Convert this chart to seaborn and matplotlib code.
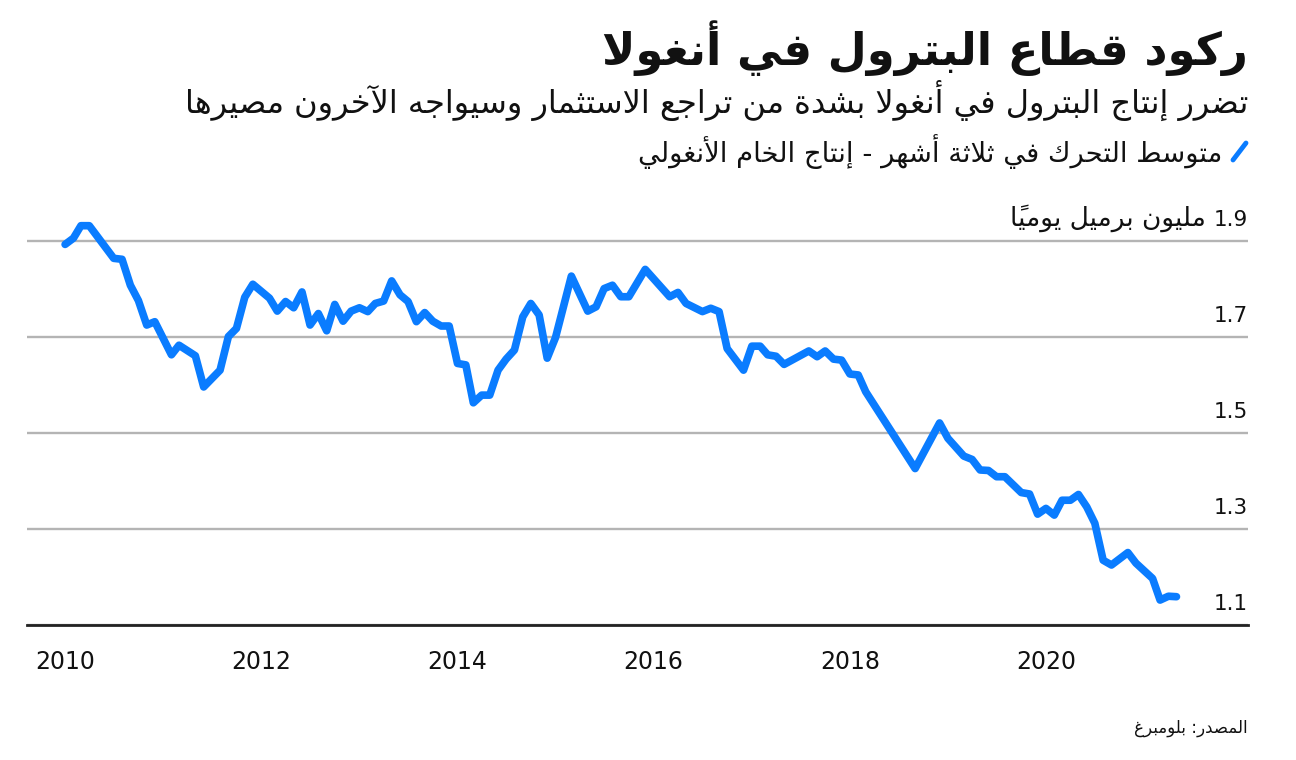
import re
import pandas as pd
import matplotlib
matplotlib.use('Agg')
import matplotlib.pyplot as plt
from matplotlib.lines import Line2D
import seaborn as sns

# --- data (3-month moving average of Angolan crude output, million bpd) ---
months = [
    '2010-01', '2010-02', '2010-03', '2010-04', '2010-07', '2010-08', '2010-09', '2010-10', '2010-11', '2010-12',
    '2011-02', '2011-03', '2011-05', '2011-06', '2011-08', '2011-09', '2011-10', '2011-11', '2011-12',
    '2012-02', '2012-03', '2012-04', '2012-05', '2012-06', '2012-07', '2012-08', '2012-09', '2012-10', '2012-11', '2012-12',
    '2013-01', '2013-02', '2013-03', '2013-04', '2013-05', '2013-06', '2013-07', '2013-08', '2013-09', '2013-10', '2013-11', '2013-12',
    '2014-01', '2014-02', '2014-03', '2014-04', '2014-05', '2014-06', '2014-07', '2014-08', '2014-09', '2014-10', '2014-11', '2014-12',
    '2015-01', '2015-03', '2015-05', '2015-06', '2015-07', '2015-08', '2015-09', '2015-10', '2015-12',
    '2016-03', '2016-04', '2016-05', '2016-07', '2016-08', '2016-09', '2016-10', '2016-12',
    '2017-01', '2017-02', '2017-03', '2017-04', '2017-05', '2017-08', '2017-09', '2017-10', '2017-11', '2017-12',
    '2018-01', '2018-02', '2018-03', '2018-09', '2018-12',
    '2019-01', '2019-03', '2019-04', '2019-05', '2019-06', '2019-07', '2019-08', '2019-10', '2019-11', '2019-12',
    '2020-01', '2020-02', '2020-03', '2020-04', '2020-05', '2020-06', '2020-07', '2020-08', '2020-09', '2020-11', '2020-12',
    '2021-02', '2021-03', '2021-04', '2021-05',
]
production = [
    1.893, 1.906, 1.932, 1.932, 1.864, 1.862, 1.808, 1.776, 1.725, 1.732,
    1.663, 1.683, 1.661, 1.596, 1.631, 1.701, 1.718, 1.783, 1.810,
    1.781, 1.754, 1.774, 1.761, 1.794, 1.725, 1.749, 1.713, 1.768, 1.733, 1.754,
    1.761, 1.753, 1.770, 1.775, 1.817, 1.788, 1.774, 1.732, 1.751, 1.733, 1.723, 1.723,
    1.645, 1.642, 1.563, 1.579, 1.579, 1.631, 1.654, 1.673, 1.742, 1.770, 1.746, 1.656,
    1.699, 1.827, 1.754, 1.763, 1.801, 1.808, 1.784, 1.784, 1.841,
    1.784, 1.793, 1.770, 1.753, 1.760, 1.753, 1.676, 1.631,
    1.681, 1.681, 1.663, 1.660, 1.643, 1.671, 1.659, 1.671, 1.654, 1.652,
    1.623, 1.621, 1.586, 1.426, 1.521,
    1.489, 1.452, 1.445, 1.423, 1.422, 1.409, 1.409, 1.376, 1.373, 1.331,
    1.343, 1.329, 1.360, 1.360, 1.372, 1.346, 1.312, 1.235, 1.225, 1.251, 1.229,
    1.197, 1.152, 1.160, 1.159,
]
year_ticks = [2010, 2012, 2014, 2016, 2018, 2020]
y_ticks = [1.1, 1.3, 1.5, 1.7, 1.9]

title = 'ركود قطاع البترول في أنغولا'
subtitle = 'تضرر إنتاج البترول في أنغولا بشدة من تراجع الاستثمار وسيواجه الآخرون مصيرها'
legend_label = 'متوسط التحرك في ثلاثة أشهر - إنتاج الخام الأنغولي'
unit_label = 'مليون برميل يومياً'
source = 'المصدر: بلومبرغ'

BLUE = '#0a7cff'
GRID = '#b4b4b4'
INK = '#111111'

# --- tiny arabic shaper (matplotlib has no shaping / bidi of its own) ---
_spec = [('\u0621', 0xFE80, 1), ('\u0622', 0xFE81, 2), ('\u0623', 0xFE83, 2), ('\u0624', 0xFE85, 2),
         ('\u0625', 0xFE87, 2), ('\u0626', 0xFE89, 4), ('\u0627', 0xFE8D, 2), ('\u0628', 0xFE8F, 4),
         ('\u0629', 0xFE93, 2), ('\u062A', 0xFE95, 4), ('\u062B', 0xFE99, 4), ('\u062C', 0xFE9D, 4),
         ('\u062D', 0xFEA1, 4), ('\u062E', 0xFEA5, 4), ('\u062F', 0xFEA9, 2), ('\u0630', 0xFEAB, 2),
         ('\u0631', 0xFEAD, 2), ('\u0632', 0xFEAF, 2), ('\u0633', 0xFEB1, 4), ('\u0634', 0xFEB5, 4),
         ('\u0635', 0xFEB9, 4), ('\u0636', 0xFEBD, 4), ('\u0637', 0xFEC1, 4), ('\u0638', 0xFEC5, 4),
         ('\u0639', 0xFEC9, 4), ('\u063A', 0xFECD, 4), ('\u0641', 0xFED1, 4), ('\u0642', 0xFED5, 4),
         ('\u0643', 0xFED9, 4), ('\u0644', 0xFEDD, 4), ('\u0645', 0xFEE1, 4), ('\u0646', 0xFEE5, 4),
         ('\u0647', 0xFEE9, 4), ('\u0648', 0xFEED, 2), ('\u0649', 0xFEEF, 2), ('\u064A', 0xFEF1, 4)]
FORMS = {c: [s + i for i in range(n)] for c, s, n in _spec}
LAM_ALEF = {'\u0622': (0xFEF5, 0xFEF6), '\u0623': (0xFEF7, 0xFEF8),
            '\u0625': (0xFEF9, 0xFEFA), '\u0627': (0xFEFB, 0xFEFC)}


def is_mark(c):
    return '\u064B' <= c <= '\u0652'


def shape(text):
    n = len(text)
    res = []
    i = 0
    while i < n:
        c = text[i]
        if c not in FORMS:
            res.append(c)
            i += 1
            continue
        j = i - 1
        while j >= 0 and is_mark(text[j]):
            j -= 1
        prev = text[j] if j >= 0 else None
        k = i + 1
        while k < n and is_mark(text[k]):
            k += 1
        nxt = text[k] if k < n else None
        prev_join = prev in FORMS and len(FORMS[prev]) == 4
        if c == '\u0644' and nxt in LAM_ALEF:
            iso, fin = LAM_ALEF[nxt]
            res.append(chr(fin if prev_join else iso))
            i = k + 1
            continue
        f = FORMS[c]
        if len(f) == 1:
            res.append(chr(f[0]))
        else:
            next_join = len(f) == 4 and nxt in FORMS
            if prev_join and next_join:
                res.append(chr(f[3]))
            elif prev_join:
                res.append(chr(f[1]))
            elif next_join:
                res.append(chr(f[2]))
            else:
                res.append(chr(f[0]))
        i += 1
    return ''.join(res)


def ar(text):
    tokens = re.findall(r'[0-9A-Za-z][0-9A-Za-z.,%]*|.[\u064B-\u0652]*', shape(text))
    return ''.join(reversed(tokens))


# --- plot ---
sns.set_style('white')
plt.rcParams['font.family'] = ['DejaVu Sans']

df = pd.DataFrame({'date': pd.to_datetime(months), 'value': production})

fig = plt.figure(figsize=(12.96, 7.6), dpi=100)
ax = fig.add_axes([0.0208, 0.1776, 0.9421, 0.5368])

sns.lineplot(data=df, x='date', y='value', ax=ax, color=BLUE, lw=5.5,
             solid_capstyle='round', solid_joinstyle='round', zorder=3)

ax.set_xlim(pd.Timestamp('2009-08-12'), pd.Timestamp('2022-01-22'))
ax.set_ylim(1.1, 1.95)

ax.set_yticks(y_ticks)
ax.set_yticklabels([])
ax.tick_params(axis='y', length=0)
ax.yaxis.grid(True, color=GRID, lw=1.7)
ax.xaxis.grid(False)

ax.set_xticks(pd.to_datetime([f'{y}-01-01' for y in year_ticks]))
ax.set_xticklabels([str(y) for y in year_ticks], fontsize=17, color=INK)
ax.tick_params(axis='x', length=7, width=1, color='#222222', pad=11, direction='out')
ax.set_xlabel('')
ax.set_ylabel('')

for s in ['top', 'left', 'right']:
    ax.spines[s].set_visible(False)
ax.spines['bottom'].set_color('#222222')
ax.spines['bottom'].set_linewidth(2)
ax.spines['bottom'].set_zorder(4)

num_size = 15.5
for v in y_ticks:
    ax.annotate(f'{v:.1f}', xy=(1, v), xycoords=('axes fraction', 'data'), xytext=(0, 11),
                textcoords='offset points', ha='right', va='baseline', fontsize=num_size, color=INK)
# unit text sits to the left of the top number
ax.annotate(ar(unit_label), xy=(1, y_ticks[-1]), xycoords=('axes fraction', 'data'),
            xytext=(-1.9 * num_size - 1, 11), textcoords='offset points',
            ha='right', va='baseline', fontsize=19, color=INK)

fig.text(0.963, 0.937, ar(title), ha='right', va='center', fontsize=32.4, fontweight='bold', color=INK)
fig.text(0.963, 0.868, ar(subtitle), ha='right', va='center', fontsize=23, color=INK)
fig.text(0.943, 0.800, ar(legend_label), ha='right', va='center', fontsize=19.7, color=INK)
fig.add_artist(Line2D([0.9514, 0.9614], [0.7895, 0.8118], color=BLUE, lw=3.5,
                      solid_capstyle='round', transform=fig.transFigure))
fig.text(0.963, 0.042, ar(source), ha='right', va='center', fontsize=12, color=INK)

fig.savefig('out.png', dpi=100)
